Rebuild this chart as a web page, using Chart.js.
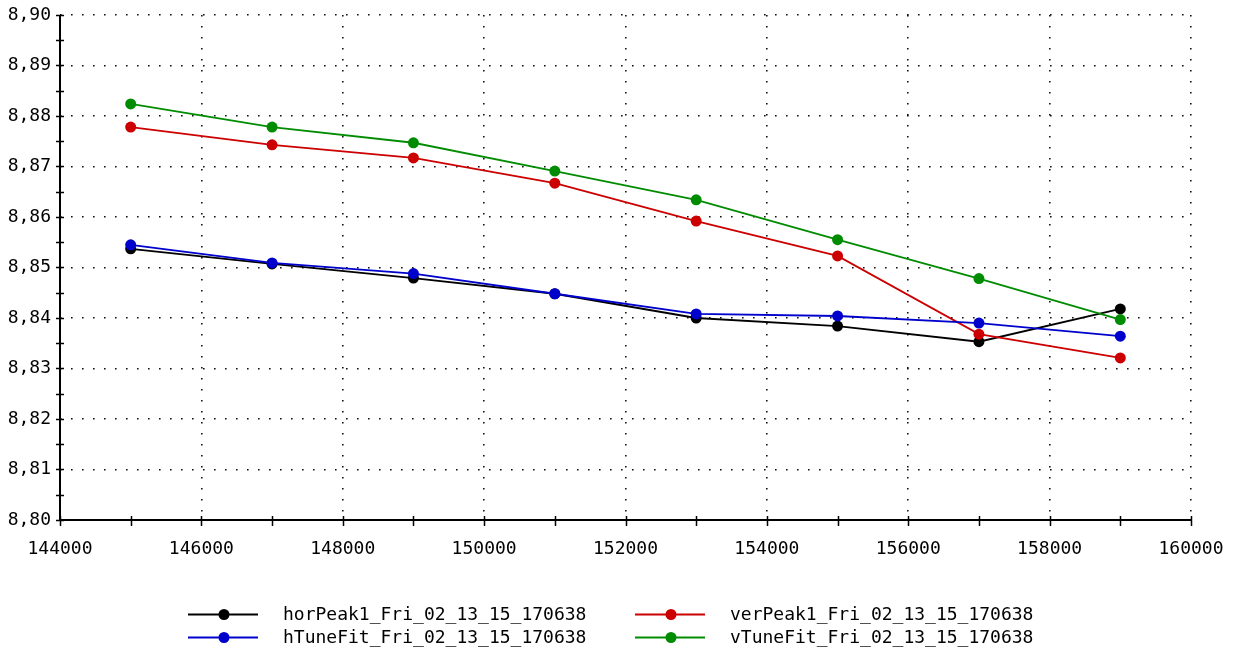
<!DOCTYPE html>
<html>
<head>
<meta charset="utf-8">
<script src="https://cdn.jsdelivr.net/npm/chart.js@4/dist/chart.umd.min.js"></script>
<style>
  html, body { margin: 0; padding: 0; background: #ffffff; }
  #wrap { width: 1233px; height: 655px; }
</style>
</head>
<body>
<div id="wrap"><canvas id="c" width="1233" height="655"></canvas></div>
<script>
// Scan positions (x) and measured tune values per series
const xValues   = [145000, 147000, 149000, 151000, 153000, 155000, 157000, 159000];
const horPeak1  = [8.8537, 8.8507, 8.8479, 8.8448, 8.8400, 8.8384, 8.8353, 8.8418];
const verPeak1  = [8.8778, 8.8743, 8.8717, 8.8667, 8.8592, 8.8523, 8.8368, 8.8321];
const hTuneFit  = [8.8545, 8.8509, 8.8488, 8.8448, 8.8408, 8.8404, 8.8390, 8.8364];
const vTuneFit  = [8.8824, 8.8778, 8.8747, 8.8691, 8.8634, 8.8555, 8.8478, 8.8397];

const seriesLabels = [
  'horPeak1_Fri_02_13_15_170638',
  'verPeak1_Fri_02_13_15_170638',
  'hTuneFit_Fri_02_13_15_170638',
  'vTuneFit_Fri_02_13_15_170638'
];
const seriesValues = [horPeak1, verPeak1, hTuneFit, vTuneFit];
const seriesColors = ['#000000', '#cc0000', '#0000cc', '#008c00'];
const drawOrder    = [4, 3, 2, 1];

// Axis ranges and tick steps
const xMin = 144000, xMax = 160000, xStep = 2000;
const yMin = 8.80,   yMax = 8.90,   yStep = 0.01;

const FONT = '"DejaVu Sans Mono", "Liberation Mono", monospace';

const datasets = seriesLabels.map((label, i) => ({
  label,
  data: xValues.map((x, j) => ({ x, y: seriesValues[i][j] })),
  borderColor: seriesColors[i],
  backgroundColor: seriesColors[i],
  pointBackgroundColor: seriesColors[i],
  pointBorderColor: seriesColors[i],
  borderWidth: 1.8,
  pointRadius: 5.5,
  pointBorderWidth: 0,
  tension: 0,
  order: drawOrder[i]
}));

// Solid axis lines plus tick marks crossing them (major + half-step minor)
const axisTicks = {
  id: 'axisTicks',
  afterDatasetsDraw(chart) {
    const ctx = chart.ctx;
    const xs = chart.scales.x, ys = chart.scales.y;
    const area = chart.chartArea;
    ctx.save();
    ctx.setLineDash([]);
    ctx.strokeStyle = '#000';
    ctx.lineWidth = 2;
    ctx.beginPath();
    ctx.moveTo(area.left, area.top);
    ctx.lineTo(area.left, area.bottom);
    ctx.lineTo(area.right, area.bottom);
    ctx.stroke();
    ctx.lineWidth = 1.5;
    ctx.beginPath();
    for (let v = yMin; v <= yMax + 1e-9; v += yStep / 2) {
      const py = Math.round(ys.getPixelForValue(v)) + 0.5;
      ctx.moveTo(area.left - 4, py);
      ctx.lineTo(area.left + 4, py);
    }
    for (let v = xMin; v <= xMax; v += xStep / 2) {
      const px = Math.round(xs.getPixelForValue(v)) + 0.5;
      ctx.moveTo(px, area.bottom - 4);
      ctx.lineTo(px, area.bottom + 6);
    }
    ctx.stroke();
    ctx.restore();
  }
};

// Two-column legend with line-and-marker samples
const twoColLegend = {
  id: 'twoColLegend',
  afterDraw(chart) {
    const ctx = chart.ctx;
    const colX = [188, 635];
    const rowY = [614, 637];
    ctx.save();
    ctx.font = '18px ' + FONT;
    ctx.textBaseline = 'middle';
    ctx.textAlign = 'left';
    chart.data.datasets.forEach((ds, i) => {
      const x0 = colX[i % 2];
      const y0 = rowY[Math.floor(i / 2)];
      ctx.strokeStyle = ds.borderColor;
      ctx.lineWidth = 1.8;
      ctx.beginPath();
      ctx.moveTo(x0, y0 + 0.5);
      ctx.lineTo(x0 + 70, y0 + 0.5);
      ctx.stroke();
      ctx.fillStyle = ds.borderColor;
      ctx.beginPath();
      ctx.arc(x0 + 36, y0 + 0.5, 5.5, 0, Math.PI * 2);
      ctx.fill();
      ctx.fillStyle = '#000';
      ctx.fillText(ds.label, x0 + 95, y0 + 1);
    });
    ctx.restore();
  }
};

const dottedGrid = {
  drawTicks: false,
  color: '#111',
  lineWidth: 1.6
};

new Chart(document.getElementById('c'), {
  type: 'line',
  data: { datasets },
  options: {
    responsive: false,
    animation: false,
    devicePixelRatio: 1,
    layout: { padding: { top: 15, right: 42, left: 0, bottom: 0 } },
    plugins: {
      legend: { display: false },
      tooltip: { enabled: false }
    },
    scales: {
      x: {
        type: 'linear',
        min: xMin, max: xMax,
        afterFit(scale) {
          scale.height = 135;
          scale.paddingLeft = 0;
          scale.paddingRight = 0;
        },
        ticks: {
          stepSize: xStep,
          color: '#000',
          font: { family: FONT, size: 18 },
          padding: 19,
          maxRotation: 0,
          callback: v => String(v)
        },
        grid: dottedGrid,
        border: { display: false, dash: [1.6, 9.4] }
      },
      y: {
        type: 'linear',
        min: yMin, max: yMax,
        afterFit(scale) {
          scale.width = 60;
          scale.paddingTop = 0;
          scale.paddingBottom = 0;
        },
        ticks: {
          stepSize: yStep,
          color: '#000',
          font: { family: FONT, size: 18 },
          padding: 9,
          callback: v => v.toFixed(2).replace('.', ',')
        },
        grid: dottedGrid,
        border: { display: false, dash: [1.6, 9.4] }
      }
    }
  },
  plugins: [axisTicks, twoColLegend]
});
</script>
</body>
</html>
